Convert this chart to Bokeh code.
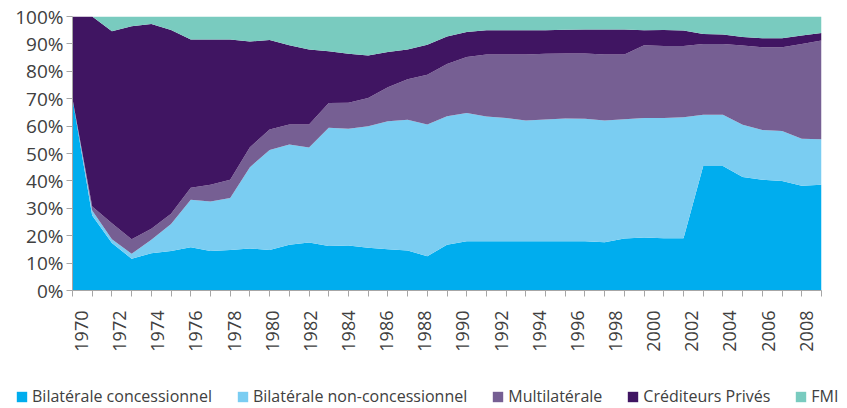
import math
from bokeh.plotting import figure
from bokeh.layouts import column
from bokeh.models import (ColumnDataSource, Range1d, FixedTicker, PrintfTickFormatter,
                          LinearAxis, Legend, LegendItem)
from bokeh.embed import file_html
from bokeh.resources import INLINE

years = list(range(1970, 2009))

bil_conc = [70, 27.4, 17.3, 11.6, 13.6, 14.4, 15.8, 14.4, 14.8, 15.3,
            14.8, 16.7, 17.5, 16.2, 16.4, 15.6, 15.1, 14.6, 12.5, 16.7,
            18.0, 18.0, 18.0, 18.0, 18.0, 18.0, 18.0, 17.6, 19.0, 19.3,
            19.1, 19.1, 45.4, 45.4, 41.4, 40.4, 40.0, 38.2, 38.6]
bil_nonconc = [0, 1.8, 1.4, 1.8, 4.9, 9.9, 17.3, 18.1, 19.0, 29.7,
               36.5, 36.6, 34.7, 43.2, 42.6, 44.3, 46.7, 47.7, 48.1, 46.9,
               46.8, 45.5, 45.0, 44.0, 44.4, 44.8, 44.7, 44.4, 43.5, 43.7,
               43.9, 44.1, 18.7, 18.7, 19.1, 18.2, 18.2, 17.2, 16.6]
multilat = [0, 1.5, 5.8, 5.3, 4.0, 3.7, 4.4, 6.1, 6.6, 7.3,
            7.5, 7.3, 8.4, 9.0, 9.5, 10.4, 12.4, 14.8, 18.1, 19.1,
            20.4, 22.6, 23.1, 24.1, 24.0, 23.7, 23.8, 24.1, 23.6, 26.5,
            26.2, 26.0, 25.9, 25.9, 28.9, 30.2, 30.6, 34.6, 36.0]
prives = [30, 69.3, 70.1, 77.7, 74.8, 67.1, 54.1, 53.0, 51.2, 38.6,
          32.6, 28.9, 27.4, 18.9, 17.9, 15.5, 12.8, 10.9, 11.0, 10.0,
          9.1, 8.9, 8.9, 8.9, 8.6, 8.7, 8.8, 9.2, 9.2, 5.5,
          5.9, 5.7, 3.6, 3.4, 3.1, 3.3, 3.3, 3.1, 2.8]
fmi = [0, 0, 5.4, 3.6, 2.7, 4.9, 8.4, 8.4, 8.4, 9.1,
       8.6, 10.5, 12.0, 12.7, 13.6, 14.2, 13.0, 12.0, 10.3, 7.3,
       5.7, 5.0, 5.0, 5.0, 5.0, 4.8, 4.7, 4.7, 4.7, 5.0,
       4.9, 5.1, 6.4, 6.6, 7.5, 7.9, 7.9, 6.9, 6.0]

series_names = ["Bilatérale concessionnel", "Bilatérale non-concessionnel",
                "Multilatérale", "Créditeurs Privés", "FMI"]
colors = ["#00ADEE", "#7ACDF2", "#765F93", "#401562", "#79CBBF"]
label_years = list(range(1970, 2009, 2))
y_ticks = list(range(0, 101, 10))

keys = ["bc", "bnc", "mul", "pri", "fmi"]
source = ColumnDataSource(dict(year=years, bc=bil_conc, bnc=bil_nonconc,
                               mul=multilat, pri=prives, fmi=fmi))

FONT = "Open Sans"
TXT = "#404040"
AX = "#A6A6A6"

p = figure(width=845, height=368, output_backend="svg", toolbar_location=None,
           x_range=Range1d(1970, 2008), y_range=Range1d(0, 100),
           min_border_left=72, min_border_right=24, min_border_top=16,
           min_border_bottom=78)
p.outline_line_color = None
p.background_fill_color = "white"

renderers = p.varea_stack(stackers=keys, x="year", color=colors, source=source)

# x axis: tick marks only (as minor ticks, no labels)
p.xaxis.ticker = FixedTicker(ticks=[], minor_ticks=years)
p.xaxis.major_label_standoff = 0
p.xaxis.major_tick_out = 0
p.xaxis.major_tick_in = 0
p.xaxis.minor_tick_out = 6
p.xaxis.minor_tick_in = 0
p.xaxis.axis_line_color = AX
p.xaxis.minor_tick_line_color = AX
p.xaxis.major_tick_line_color = AX

# x labels on a separate axis
p.extra_x_ranges = {"lab": Range1d(1969.528, 2008.804)}
lab_axis = LinearAxis(x_range_name="lab", ticker=FixedTicker(ticks=label_years),
                      major_label_orientation=math.pi / 2,
                      major_label_text_font=FONT, major_label_text_font_size="18px",
                      major_label_text_color=TXT, major_label_standoff=14,
                      axis_line_color=None, major_tick_line_color=None,
                      minor_tick_line_color=None, major_tick_out=0, major_tick_in=0)
p.add_layout(lab_axis, "below")

# y axis
p.yaxis.ticker = FixedTicker(ticks=y_ticks)
p.yaxis.formatter = PrintfTickFormatter(format="%d%%")
p.yaxis.major_label_text_font = FONT
p.yaxis.major_label_text_font_size = "19px"
p.yaxis.major_label_text_color = TXT
p.yaxis.major_label_standoff = 3
p.yaxis.major_tick_out = 6
p.yaxis.major_tick_in = 0
p.yaxis.minor_tick_line_color = None
p.yaxis.axis_line_color = AX
p.yaxis.major_tick_line_color = AX

p.xgrid.visible = False
p.ygrid.ticker = FixedTicker(ticks=[100])
p.ygrid.grid_line_color = "#D0D0D0"
p.ygrid.level = "annotation"

# legend strip as its own small figure; the same stacked areas are drawn there
# but kept out of its visible y range, so only the legend shows
pl = figure(width=845, height=39, output_backend="svg", toolbar_location=None,
            x_axis_location=None, y_axis_location=None, min_border=0,
            x_range=Range1d(1970, 2008), y_range=Range1d(-100, -50))
pl.outline_line_color = None
pl.grid.visible = False
leg_renderers = pl.varea_stack(stackers=keys, x="year", color=colors, source=source)
legend = Legend(items=[LegendItem(label=n, renderers=[r]) for n, r in zip(series_names, leg_renderers)],
                orientation="horizontal", location=(15, 0),
                label_text_font=FONT, label_text_font_size="16px", label_text_color=TXT,
                glyph_width=13, glyph_height=13, label_standoff=4, spacing=24,
                padding=0, margin=0, border_line_color=None, background_fill_alpha=0,
                label_height=20)
pl.add_layout(legend)

try:
    p.frame_align = False
    pl.frame_align = False
except AttributeError:
    pass

layout = column(p, pl, spacing=0)
open("out.html", "w").write(file_html(layout, INLINE))
